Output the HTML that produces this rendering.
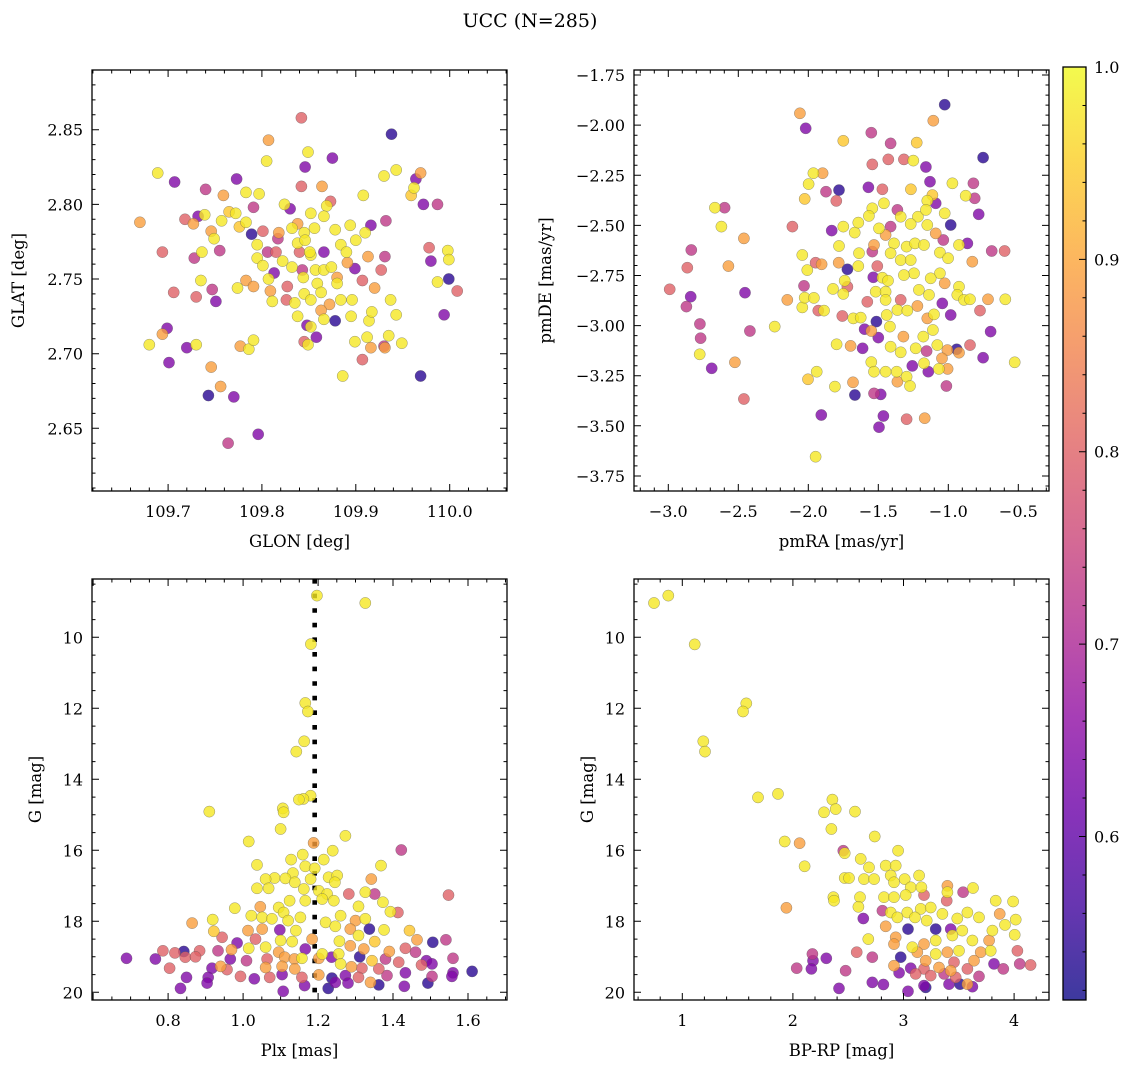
<!DOCTYPE html>
<html>
<head>
<meta charset="utf-8">
<style>
  html,body{margin:0;padding:0;background:#fff;}
  svg{display:block;}
  text{font-family:"DejaVu Serif","Liberation Serif",serif;fill:#000;}
</style>
</head>
<body>
<svg id="fig" width="1136" height="1067" viewBox="0 0 1136 1067" xmlns="http://www.w3.org/2000/svg">
  <rect x="0" y="0" width="1136" height="1067" fill="#fff"/>
  <text x="530" y="27" font-size="19" text-anchor="middle">UCC (N=285)</text>
</svg>
<script>
// ---------- DATA: top-left (GLON vs GLAT) ----------
const tlGlon = [109.842,109.938,109.807,109.849,109.875,109.805,109.846,109.689,109.707,109.773,109.740,109.759,109.842,109.864,109.930,109.943,109.969,109.964,109.962,109.959,109.908,109.972,109.987,109.783,109.797,109.791,109.824,109.830,109.869,109.873,109.670,109.718,109.732,109.739,109.727,109.757,109.765,109.772,109.776,109.783,109.746,109.749,109.789,109.801,109.818,109.832,109.845,109.852,109.866,109.856,109.878,109.894,109.916,109.910,109.932,109.694,109.728,109.736,109.755,109.795,109.806,109.815,109.795,109.801,109.813,109.822,109.832,109.838,109.846,109.852,109.866,109.884,109.890,109.900,109.913,109.931,109.978,109.998,109.999,109.980,109.706,109.730,109.735,109.747,109.751,109.774,109.783,109.791,109.807,109.809,109.811,109.827,109.826,109.844,109.857,109.859,109.845,109.852,109.863,109.872,109.880,109.891,109.899,109.884,109.896,109.907,109.920,109.927,109.937,109.943,109.987,109.999,110.008,109.994,109.838,109.848,109.852,109.866,109.878,109.895,109.914,109.917,109.699,109.694,109.680,109.720,109.730,109.701,109.746,109.777,109.786,109.791,109.845,109.858,109.849,109.899,109.912,109.916,109.907,109.930,109.931,109.935,109.949,109.886,109.969,109.756,109.743,109.770,109.796,109.764,109.840,109.843,109.866,109.874,109.880,109.835,109.863,109.817,109.838,109.851];
const tlGlat = [2.858,2.847,2.843,2.835,2.831,2.829,2.825,2.821,2.815,2.817,2.810,2.806,2.812,2.812,2.819,2.823,2.821,2.817,2.811,2.806,2.806,2.800,2.800,2.808,2.807,2.798,2.800,2.797,2.799,2.802,2.788,2.790,2.792,2.793,2.787,2.789,2.795,2.794,2.785,2.788,2.782,2.777,2.780,2.782,2.781,2.784,2.781,2.794,2.792,2.784,2.783,2.786,2.786,2.781,2.789,2.768,2.764,2.768,2.769,2.773,2.768,2.768,2.764,2.759,2.754,2.762,2.758,2.774,2.776,2.766,2.768,2.773,2.768,2.776,2.765,2.765,2.771,2.769,2.763,2.762,2.741,2.738,2.749,2.743,2.735,2.744,2.749,2.745,2.750,2.742,2.735,2.745,2.736,2.751,2.756,2.747,2.740,2.736,2.741,2.733,2.747,2.761,2.757,2.736,2.736,2.749,2.744,2.756,2.736,2.726,2.748,2.750,2.742,2.726,2.725,2.719,2.718,2.723,2.722,2.725,2.722,2.728,2.717,2.713,2.706,2.704,2.706,2.694,2.691,2.705,2.703,2.709,2.708,2.711,2.706,2.708,2.711,2.704,2.696,2.705,2.704,2.712,2.707,2.685,2.685,2.678,2.672,2.671,2.646,2.640,2.768,2.756,2.756,2.758,2.751,2.734,2.729,2.777,2.787,2.768];
const tlProb = [0.80,0.54,0.89,0.98,0.64,0.98,0.64,0.98,0.64,0.64,0.73,0.89,0.80,0.89,0.98,0.98,0.89,0.64,0.98,0.94,0.98,0.64,0.73,0.98,0.98,0.73,0.98,0.64,0.98,0.80,0.89,0.80,0.64,0.98,0.89,0.98,0.94,0.98,0.94,0.98,0.89,0.98,0.54,0.80,0.89,0.98,0.98,0.98,0.98,0.98,0.98,0.98,0.64,0.98,0.73,0.80,0.73,0.98,0.73,0.98,0.73,0.80,0.98,0.98,0.64,0.98,0.98,0.98,0.98,0.98,0.64,0.98,0.98,0.98,0.89,0.73,0.80,0.98,0.98,0.64,0.80,0.80,0.98,0.73,0.64,0.98,0.89,0.89,0.98,0.89,0.98,0.80,0.80,0.98,0.98,0.98,0.98,0.98,0.98,0.89,0.98,0.89,0.64,0.98,0.98,0.80,0.89,0.80,0.98,0.98,0.98,0.54,0.80,0.64,0.98,0.64,0.98,0.98,0.54,0.98,0.98,0.98,0.64,0.89,0.98,0.64,0.98,0.64,0.89,0.89,0.98,0.98,0.80,0.64,0.98,0.98,0.98,0.89,0.80,0.73,0.89,0.98,0.98,0.98,0.54,0.89,0.54,0.64,0.64,0.73,0.80,0.73,0.98,0.98,0.89,0.98,0.89,0.73,0.89,0.98];

// ---------- DATA: top-right (pmRA vs pmDE) ----------
const trPmra = [-1.026,-1.107,-2.060,-2.019,-1.550,-1.750,-1.412,-1.226,-0.752,-1.543,-1.429,-1.317,-1.250,-1.160,-1.964,-1.898,-1.998,-2.026,-1.874,-1.781,-1.800,-1.571,-1.471,-1.267,-1.131,-0.971,-0.821,-0.876,-0.812,-0.783,-1.114,-1.150,-1.090,-1.460,-1.543,-1.567,-1.364,-1.340,-1.217,-1.160,-1.026,-0.983,-2.667,-2.598,-2.621,-2.114,-2.460,-1.833,-1.750,-1.669,-1.643,-1.495,-1.412,-1.269,-1.150,-1.090,-1.036,-0.864,-0.924,-0.690,-0.598,-2.836,-2.864,-2.571,-2.043,-2.007,-1.948,-1.905,-1.781,-1.783,-1.721,-1.638,-1.643,-1.543,-1.531,-1.448,-1.388,-1.412,-1.340,-1.298,-1.238,-1.174,-1.269,-1.245,-1.317,-1.060,-1.002,-1.060,-0.829,-1.507,-1.740,-1.536,-1.471,-1.431,-2.990,-2.840,-2.871,-2.452,-2.031,-2.150,-2.043,-2.026,-1.960,-1.929,-1.888,-1.824,-1.750,-1.721,-1.579,-1.519,-1.448,-1.448,-1.340,-1.364,-1.293,-1.221,-1.210,-1.138,-1.126,-1.026,-1.043,-0.983,-0.924,-0.936,-0.888,-0.845,-0.717,-0.593,-0.774,-2.774,-2.769,-2.776,-2.690,-2.524,-2.417,-2.240,-1.757,-1.679,-1.626,-1.514,-1.598,-1.550,-1.500,-1.417,-1.440,-1.321,-1.179,-1.110,-1.150,-1.102,-0.698,-1.798,-1.698,-1.612,-1.412,-1.340,-1.233,-1.155,-1.079,-1.007,-0.940,-0.924,-0.845,-0.752,-0.526,-1.550,-1.531,-1.448,-1.369,-1.298,-1.257,-1.174,-1.143,-1.067,-1.005,-1.045,-1.940,-2.002,-1.810,-1.681,-1.667,-1.531,-1.483,-1.364,-1.274,-1.014,-2.460,-1.907,-1.464,-1.495,-1.298,-1.169,-1.948];
const trPmde = [-1.898,-1.978,-1.941,-2.016,-2.038,-2.078,-2.091,-2.087,-2.162,-2.196,-2.171,-2.171,-2.177,-2.209,-2.240,-2.240,-2.294,-2.368,-2.332,-2.324,-2.378,-2.310,-2.320,-2.320,-2.282,-2.290,-2.290,-2.352,-2.365,-2.445,-2.349,-2.377,-2.390,-2.390,-2.415,-2.453,-2.423,-2.457,-2.457,-2.423,-2.440,-2.498,-2.412,-2.412,-2.506,-2.506,-2.565,-2.526,-2.506,-2.536,-2.486,-2.515,-2.506,-2.493,-2.498,-2.540,-2.573,-2.590,-2.598,-2.628,-2.628,-2.623,-2.711,-2.703,-2.648,-2.723,-2.686,-2.694,-2.603,-2.686,-2.719,-2.639,-2.703,-2.631,-2.598,-2.548,-2.590,-2.639,-2.673,-2.606,-2.590,-2.598,-2.673,-2.739,-2.748,-2.636,-2.664,-2.739,-2.681,-2.703,-2.776,-2.759,-2.761,-2.776,-2.819,-2.856,-2.905,-2.836,-2.802,-2.872,-2.909,-2.861,-2.862,-2.925,-2.925,-2.817,-2.842,-2.806,-2.881,-2.831,-2.831,-2.872,-2.872,-2.922,-2.925,-2.902,-2.822,-2.847,-2.764,-2.789,-2.889,-2.947,-2.806,-2.847,-2.872,-2.869,-2.869,-2.869,-2.925,-2.992,-3.063,-3.143,-3.213,-3.183,-3.027,-3.005,-2.952,-2.964,-2.960,-2.980,-3.018,-3.027,-3.060,-3.005,-2.947,-3.055,-3.055,-3.022,-2.964,-2.944,-3.030,-3.093,-3.101,-3.113,-3.105,-3.133,-3.113,-3.127,-3.097,-3.122,-3.118,-3.135,-3.097,-3.160,-3.183,-3.182,-3.230,-3.230,-3.230,-3.255,-3.201,-3.188,-3.230,-3.216,-3.216,-3.163,-3.230,-3.268,-3.304,-3.283,-3.346,-3.338,-3.343,-3.280,-3.301,-3.301,-3.366,-3.446,-3.451,-3.507,-3.467,-3.462,-3.654];
const trProb = [0.54,0.89,0.89,0.64,0.73,0.94,0.73,0.94,0.54,0.80,0.80,0.80,0.98,0.64,0.98,0.89,0.98,0.94,0.73,0.54,0.80,0.64,0.80,0.94,0.64,0.98,0.73,0.98,0.73,0.64,0.94,0.98,0.64,0.98,0.98,0.98,0.73,0.98,0.98,0.98,0.98,0.54,0.98,0.73,0.98,0.80,0.89,0.64,0.98,0.98,0.98,0.98,0.73,0.98,0.98,0.89,0.73,0.64,0.98,0.73,0.80,0.73,0.80,0.89,0.98,0.98,0.80,0.89,0.98,0.89,0.54,0.98,0.98,0.73,0.89,0.89,0.98,0.98,0.98,0.98,0.98,0.98,0.98,0.98,0.98,0.98,0.98,0.98,0.89,0.80,0.98,0.64,0.98,0.98,0.80,0.64,0.73,0.64,0.73,0.89,0.98,0.98,0.98,0.80,0.98,0.98,0.98,0.80,0.80,0.98,0.98,0.98,0.80,0.98,0.98,0.89,0.98,0.98,0.98,0.89,0.64,0.64,0.98,0.98,0.98,0.98,0.89,0.98,0.80,0.73,0.73,0.98,0.64,0.89,0.73,0.98,0.80,0.98,0.98,0.54,0.64,0.89,0.64,0.98,0.98,0.89,0.98,0.98,0.89,0.98,0.64,0.98,0.89,0.64,0.98,0.98,0.98,0.73,0.98,0.89,0.54,0.89,0.80,0.64,0.98,0.98,0.98,0.98,0.98,0.98,0.64,0.98,0.64,0.98,0.89,0.89,0.98,0.94,0.98,0.89,0.54,0.73,0.64,0.89,0.98,0.73,0.80,0.64,0.64,0.64,0.80,0.89,0.98];

// ---------- DATA: bottom-left (Plx vs G) ----------
const blPlx = [1.197,1.326,1.181,1.166,1.173,1.163,1.142,1.180,1.161,1.149,0.910,1.106,1.108,1.100,1.015,1.273,1.188,1.422,1.239,1.159,1.128,1.215,1.368,1.037,1.166,1.191,1.133,1.084,1.060,1.113,1.228,1.251,1.342,1.138,1.180,1.245,1.037,1.068,1.162,1.202,1.224,1.282,1.326,1.351,1.548,1.166,1.211,1.242,1.373,1.124,0.978,1.046,1.095,1.308,1.393,1.413,1.108,1.153,1.022,1.051,1.077,1.120,1.220,1.260,1.300,1.326,0.864,0.919,0.922,1.013,1.051,1.098,1.141,1.246,1.286,1.337,1.376,1.444,1.308,0.944,0.984,1.033,1.100,1.131,1.184,1.257,1.286,1.351,1.464,1.506,1.541,0.786,0.818,0.842,0.884,0.933,0.969,1.015,1.060,1.095,1.166,1.211,1.255,1.322,1.390,1.433,1.460,0.689,0.766,0.846,0.873,0.966,1.009,1.064,1.111,1.137,1.157,1.202,1.236,1.311,1.344,1.380,1.415,1.489,1.504,1.560,0.804,0.917,0.940,0.957,1.060,1.104,1.138,1.260,1.289,1.317,1.362,1.433,1.476,1.560,1.611,0.849,0.907,0.993,1.030,1.071,1.104,1.157,1.202,1.237,1.273,1.308,1.340,1.384,1.504,1.557,0.833,0.904,1.107,1.164,1.227,1.246,1.280,1.362,1.430,1.493];
const blG = [8.826,9.033,10.19,11.85,12.09,12.93,13.22,14.46,14.55,14.57,14.91,14.82,14.93,15.40,15.75,15.59,15.79,15.99,16.01,16.12,16.26,16.26,16.43,16.41,16.45,16.51,16.64,16.78,16.81,16.79,16.76,16.71,16.81,16.90,16.81,16.90,17.07,17.07,17.09,17.14,17.23,17.23,17.18,17.23,17.26,17.42,17.37,17.42,17.46,17.42,17.63,17.59,17.61,17.58,17.73,17.75,17.75,17.89,17.84,17.89,17.93,17.98,18.03,17.84,17.98,17.93,18.05,17.95,18.28,18.26,18.22,18.24,18.26,18.14,18.22,18.22,18.24,18.26,18.40,18.45,18.61,18.50,18.54,18.57,18.50,18.56,18.69,18.57,18.52,18.59,18.52,18.83,18.89,18.85,18.83,18.83,18.80,18.76,18.73,18.87,18.78,18.92,18.92,18.78,18.85,18.76,18.87,19.04,19.06,19.01,19.00,19.06,19.11,19.06,19.01,19.06,19.04,19.04,19.01,19.00,19.11,19.06,19.15,19.11,19.20,19.04,19.32,19.32,19.27,19.36,19.30,19.27,19.34,19.20,19.28,19.32,19.34,19.45,19.23,19.45,19.41,19.58,19.58,19.55,19.62,19.58,19.50,19.58,19.51,19.60,19.53,19.58,19.72,19.53,19.55,19.55,19.89,19.74,19.97,19.81,19.89,19.72,19.74,19.79,19.83,19.74];
const blProb = [0.98,0.98,0.98,0.98,0.98,0.98,0.98,0.98,0.98,0.98,0.98,0.98,0.98,0.98,0.98,0.98,0.89,0.73,0.98,0.98,0.98,0.98,0.98,0.98,0.98,0.98,0.98,0.98,0.98,0.98,0.98,0.98,0.89,0.98,0.98,0.98,0.98,0.98,0.98,0.98,0.98,0.80,0.98,0.73,0.80,0.98,0.98,0.98,0.98,0.98,0.98,0.89,0.98,0.98,0.98,0.80,0.98,0.98,0.98,0.98,0.98,0.98,0.98,0.98,0.89,0.98,0.89,0.98,0.94,0.89,0.89,0.64,0.98,0.98,0.89,0.54,0.98,0.94,0.98,0.80,0.64,0.80,0.98,0.98,0.89,0.98,0.89,0.94,0.89,0.54,0.73,0.80,0.80,0.54,0.80,0.73,0.89,0.98,0.98,0.89,0.64,0.98,0.98,0.89,0.89,0.80,0.73,0.64,0.64,0.80,0.80,0.64,0.73,0.80,0.89,0.89,0.98,0.89,0.64,0.54,0.94,0.73,0.80,0.64,0.64,0.73,0.80,0.64,0.89,0.80,0.89,0.89,0.89,0.98,0.89,0.80,0.80,0.64,0.80,0.64,0.54,0.64,0.64,0.80,0.64,0.80,0.64,0.80,0.89,0.54,0.64,0.80,0.89,0.73,0.73,0.64,0.64,0.64,0.64,0.64,0.54,0.64,0.64,0.54,0.64,0.54];

// ---------- DATA: bottom-right (BP-RP vs G) ----------
const brBprp = [0.744,0.873,1.112,1.579,1.549,1.190,1.205,1.684,1.865,2.357,2.387,2.281,2.562,2.348,2.740,1.926,2.061,2.456,2.468,2.951,2.106,2.613,2.688,2.839,2.930,2.468,2.507,2.643,2.734,2.884,3.011,3.141,2.914,3.065,3.162,3.397,3.629,3.539,2.366,2.372,2.607,2.824,2.914,3.020,3.186,3.397,3.391,3.834,3.991,1.941,2.592,2.809,2.884,3.035,3.156,3.246,3.352,3.578,3.683,3.870,2.637,2.945,3.104,3.210,3.487,4.015,3.918,2.839,3.041,3.291,3.427,3.532,3.804,4.006,2.682,2.930,2.914,3.080,3.186,3.291,3.442,3.623,3.774,4.030,2.176,2.577,2.718,2.975,3.125,3.291,3.397,3.502,3.698,3.789,2.182,2.302,3.201,3.457,3.638,3.819,4.051,4.150,2.034,2.167,2.477,2.914,3.065,3.186,3.321,3.427,3.578,3.903,2.960,3.110,3.246,3.367,3.472,3.683,2.718,2.818,2.417,3.041,3.186,3.201,3.412,3.511,3.578,3.623];
const brG = [9.033,8.826,10.20,11.86,12.09,12.93,13.22,14.51,14.41,14.57,14.84,14.93,14.91,15.40,15.61,15.75,15.80,16.01,16.08,16.01,16.45,16.24,16.48,16.43,16.43,16.78,16.78,16.81,16.81,16.71,16.81,16.71,16.90,17.04,17.04,17.00,17.06,17.18,17.32,17.42,17.32,17.32,17.32,17.26,17.26,17.18,17.42,17.42,17.44,17.62,17.59,17.70,17.75,17.75,17.65,17.61,17.79,17.75,17.89,17.79,17.92,17.89,17.89,17.98,17.92,17.95,18.10,18.14,18.22,18.22,18.22,18.26,18.26,18.38,18.50,18.45,18.64,18.73,18.64,18.54,18.40,18.54,18.54,18.83,18.92,18.87,19.01,19.01,18.87,18.92,18.87,18.83,18.87,18.83,19.11,19.04,19.11,19.15,19.11,19.20,19.20,19.23,19.32,19.34,19.39,19.25,19.32,19.34,19.30,19.39,19.34,19.34,19.45,19.48,19.53,19.48,19.58,19.55,19.72,19.78,19.89,19.97,19.81,19.86,19.77,19.77,19.77,19.84];
const brProb = [0.98,0.98,0.98,0.98,0.98,0.98,0.98,0.98,0.98,0.98,0.98,0.98,0.98,0.98,0.98,0.98,0.89,0.73,0.98,0.98,0.98,0.98,0.98,0.98,0.98,0.98,0.98,0.98,0.98,0.98,0.98,0.98,0.98,0.98,0.98,0.89,0.98,0.73,0.98,0.98,0.98,0.98,0.98,0.98,0.80,0.98,0.80,0.98,0.98,0.89,0.98,0.73,0.98,0.98,0.98,0.98,0.98,0.98,0.98,0.89,0.64,0.98,0.98,0.98,0.98,0.98,0.98,0.89,0.54,0.54,0.64,0.98,0.98,0.98,0.98,0.89,0.89,0.98,0.89,0.98,0.98,0.98,0.89,0.80,0.73,0.80,0.73,0.54,0.89,0.98,0.89,0.98,0.89,0.98,0.64,0.64,0.89,0.80,0.89,0.64,0.73,0.80,0.73,0.64,0.73,0.89,0.64,0.80,0.89,0.89,0.80,0.73,0.64,0.80,0.80,0.73,0.80,0.73,0.64,0.64,0.64,0.64,0.64,0.54,0.64,0.54,0.89,0.64];

// ---------- colour scale ----------
const cbTickValues = [0.6,0.7,0.8,0.9,1.0];
const cbTickLabels = ["0.6","0.7","0.8","0.9","1.0"];
const C_MIN = 0.515, C_MAX = 1.0;
const PLASMA = [[13,8,135],[65,4,157],[106,0,168],[143,13,164],[177,42,144],[204,71,120],[225,100,98],[242,132,75],[252,166,54],[252,206,37],[240,249,33]];
function plasma(v){
  let t=(v-C_MIN)/(C_MAX-C_MIN); t=Math.max(0,Math.min(1,t));
  const f=t*10, i=Math.min(9,Math.floor(f)), r=f-i;
  const a=PLASMA[i], b=PLASMA[i+1];
  return 'rgb('+a.map((c,k)=>Math.round(c+(b[k]-c)*r)).join(',')+')';
}

const NS='http://www.w3.org/2000/svg';
const svg=document.getElementById('fig');
function mk(tag, parent){ const e=document.createElementNS(NS,tag); parent.appendChild(e); return e; }

function fmt(v,dec){ const s=Math.abs(v).toFixed(dec); return (v<0?'\u2212':'')+s; }

function drawPanel(cfg){
  const g=mk('g',svg);
  
  
  const L=cfg.box[0], T=cfg.box[1], W=cfg.box[2], H=cfg.box[3];
  const sx=v=>L+(v-cfg.xd[0])/(cfg.xd[1]-cfg.xd[0])*W;
  const sy=v=>T+(v-cfg.yd[0])/(cfg.yd[1]-cfg.yd[0])*H; // yd[0] maps to top
  // clip
  const cp=mk('clipPath',g); cp.setAttribute('id',cfg.name+'-clip');
  const cr=mk('rect',cp); cr.setAttribute('x',L); cr.setAttribute('y',T); cr.setAttribute('width',W); cr.setAttribute('height',H);
  // vertical reference line
  if(cfg.vline!==undefined){
    const ln=mk('line',g);
    
    
    ln.setAttribute('x1',sx(cfg.vline)); ln.setAttribute('x2',sx(cfg.vline));
    ln.setAttribute('y1',T); ln.setAttribute('y2',T+H);
    ln.setAttribute('stroke','#000'); ln.setAttribute('stroke-width','4.6'); ln.setAttribute('stroke-dasharray','4.6 10');
  }
  // points (sorted by prob so high-prob drawn on top)
  const pg=mk('g',g); pg.setAttribute('clip-path','url(#'+cfg.name+'-clip)');
  
  
  const idx=cfg.x.map((_,i)=>i).sort((a,b)=>cfg.c[a]-cfg.c[b]);
  idx.forEach(i=>{
    const c=mk('circle',pg);
    
    
    c.setAttribute('cx',sx(cfg.x[i]).toFixed(1)); c.setAttribute('cy',sy(cfg.y[i]).toFixed(1)); c.setAttribute('r','5.6');
    c.setAttribute('fill',plasma(cfg.c[i])); c.setAttribute('fill-opacity','0.8');
    c.setAttribute('stroke','#555'); c.setAttribute('stroke-opacity','0.6'); c.setAttribute('stroke-width','0.5');
  });
  // frame
  const fr=mk('rect',g);
  
  
  fr.setAttribute('x',L); fr.setAttribute('y',T); fr.setAttribute('width',W); fr.setAttribute('height',H);
  fr.setAttribute('fill','none'); fr.setAttribute('stroke','#000'); fr.setAttribute('stroke-width','1.3');
  // ticks
  let d='';
  const inX=v=>v>=Math.min(...cfg.xd)-1e-9&&v<=Math.max(...cfg.xd)+1e-9;
  const inY=v=>v>=Math.min(...cfg.yd)-1e-9&&v<=Math.max(...cfg.yd)+1e-9;
  const xs=Math.min(...cfg.xd), xe=Math.max(...cfg.xd), ys=Math.min(...cfg.yd), ye=Math.max(...cfg.yd);
  for(let v=Math.ceil(xs/cfg.xminor)*cfg.xminor; v<=xe; v+=cfg.xminor){
    const isMaj=Math.abs(v/cfg.xmajor-Math.round(v/cfg.xmajor))<1e-6; const len=isMaj?7:3.5; const x=sx(v).toFixed(1);
    d+=`M${x} ${T+H}v${-len}M${x} ${T}v${len}`;
  }
  for(let v=Math.ceil(ys/cfg.yminor)*cfg.yminor; v<=ye; v+=cfg.yminor){
    const isMaj=Math.abs(v/cfg.ymajor-Math.round(v/cfg.ymajor))<1e-6; const len=isMaj?7:3.5; const y=sy(v).toFixed(1);
    d+=`M${L} ${y}h${len}M${L+W} ${y}h${-len}`;
  }
  const tp=mk('path',g); tp.setAttribute('d',d); tp.setAttribute('stroke','#000'); tp.setAttribute('stroke-width','1');
  
  
  cfg.xticks.forEach(v=>{
    const t=mk('text',g);
    
    
    t.setAttribute('x',sx(v)); t.setAttribute('y',T+H+26); t.setAttribute('font-size','16'); t.setAttribute('text-anchor','middle');
    t.textContent=fmt(v,cfg.xdec);
  });
  cfg.yticks.forEach(v=>{
    const t=mk('text',g);
    
    
    t.setAttribute('x',L-9); t.setAttribute('y',sy(v)+6); t.setAttribute('font-size','16'); t.setAttribute('text-anchor','end');
    t.textContent=fmt(v,cfg.ydec);
  });
  const xl=mk('text',g);
  
  
  xl.setAttribute('x',L+W/2); xl.setAttribute('y',T+H+56); xl.setAttribute('font-size','16.5'); xl.setAttribute('text-anchor','middle');
  xl.textContent=cfg.xlabel;
  const yl=mk('text',g);
  
  
  yl.setAttribute('transform',`translate(${cfg.ylx},${T+H/2}) rotate(-90)`); yl.setAttribute('font-size','16.5'); yl.setAttribute('text-anchor','middle');
  yl.textContent=cfg.ylabel;
}

drawPanel({name:'glon-glat-panel',box:[92,70,415,421],xd:[109.619,110.061],yd:[2.890,2.608],x:tlGlon,y:tlGlat,c:tlProb,
  xmajor:0.1,xminor:0.02,ymajor:0.05,yminor:0.01,xticks:[109.7,109.8,109.9,110.0],yticks:[2.65,2.70,2.75,2.80,2.85],xdec:1,ydec:2,
  xlabel:'GLON [deg]',ylabel:'GLAT [deg]',ylx:24});
drawPanel({name:'pm-panel',box:[634,70,415,421],xd:[-3.245,-0.281],yd:[-1.725,-3.825],x:trPmra,y:trPmde,c:trProb,
  xmajor:0.5,xminor:0.1,ymajor:0.25,yminor:0.05,xticks:[-3.0,-2.5,-2.0,-1.5,-1.0,-0.5],yticks:[-1.75,-2.0,-2.25,-2.5,-2.75,-3.0,-3.25,-3.5,-3.75],xdec:1,ydec:2,
  xlabel:'pmRA [mas/yr]',ylabel:'pmDE [mas/yr]',ylx:551});
drawPanel({name:'plx-g-panel',box:[92,579,415,421],xd:[0.597,1.704],yd:[8.357,20.216],x:blPlx,y:blG,c:blProb,vline:1.191,
  xmajor:0.2,xminor:0.05,ymajor:2,yminor:0.5,xticks:[0.8,1.0,1.2,1.4,1.6],yticks:[10,12,14,16,18,20],xdec:1,ydec:0,
  xlabel:'Plx [mas]',ylabel:'G [mag]',ylx:41});
drawPanel({name:'cmd-panel',box:[634,579,415,421],xd:[0.563,4.316],yd:[8.357,20.216],x:brBprp,y:brG,c:brProb,
  xmajor:1,xminor:0.2,ymajor:2,yminor:0.5,xticks:[1,2,3,4],yticks:[10,12,14,16,18,20],xdec:0,ydec:0,
  xlabel:'BP-RP [mag]',ylabel:'G [mag]',ylx:593});

// ---------- colorbar ----------
(function(){
  const L=1063,T=67,W=23,H=933;
  const g=mk('g',svg);
  
  
  const defs=mk('defs',g);
  const lg=mk('linearGradient',defs); lg.setAttribute('id','cbgrad'); lg.setAttribute('x1','0'); lg.setAttribute('y1','1'); lg.setAttribute('x2','0'); lg.setAttribute('y2','0');
  for(let k=0;k<=20;k++){
    const st=mk('stop',lg); st.setAttribute('offset',(k/20)); st.setAttribute('stop-color',plasma(C_MIN+(C_MAX-C_MIN)*k/20));
  }
  const r=mk('rect',g); r.setAttribute('x',L); r.setAttribute('y',T); r.setAttribute('width',W); r.setAttribute('height',H);
  r.setAttribute('fill','url(#cbgrad)'); r.setAttribute('fill-opacity','0.8');
  
  
  const fr=mk('rect',g); fr.setAttribute('x',L); fr.setAttribute('y',T); fr.setAttribute('width',W); fr.setAttribute('height',H);
  fr.setAttribute('fill','none'); fr.setAttribute('stroke','#000'); fr.setAttribute('stroke-width','1.3');
  const cy=v=>T+(C_MAX-v)/(C_MAX-C_MIN)*H;
  let d='';
  for(let v=0.52; v<=1.0001; v+=0.02){
    const maj=Math.abs(v*10-Math.round(v*10))<1e-6; const len=maj?7:3.5;
    d+=`M${L+W} ${cy(v).toFixed(1)}h${-len}`;
  }
  const tp=mk('path',g); tp.setAttribute('d',d); tp.setAttribute('stroke','#000'); tp.setAttribute('stroke-width','1');
  cbTickValues.forEach((v,i)=>{
    const t=mk('text',g);
    
    
    t.setAttribute('x',L+W+8); t.setAttribute('y',cy(v)+6); t.setAttribute('font-size','16');
    t.textContent=cbTickLabels[i];
  });
})();
</script>
</body>
</html>
